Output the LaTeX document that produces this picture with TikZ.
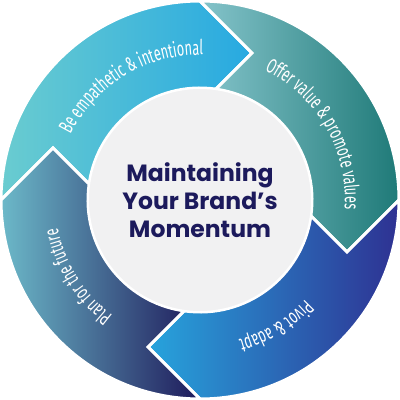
\documentclass[tikz,border=0pt]{standalone}
\usepackage{fontspec}
\usetikzlibrary{decorations.text}
\newfontfamily\arcfont[FakeStretch=0.62]{Fira Sans}
\newfontfamily\titlefont{Poppins}
\definecolor{empL}{HTML}{6ACCD0}
\definecolor{empR}{HTML}{27A9E1}
\definecolor{offL}{HTML}{85C4CB}
\definecolor{offR}{HTML}{1F7A78}
\definecolor{pivL}{HTML}{27A4DD}
\definecolor{pivR}{HTML}{2E3192}
\definecolor{plaL}{HTML}{6CB9C9}
\definecolor{plaR}{HTML}{1E1A5B}
\definecolor{hubgray}{HTML}{F1F1F2}
\definecolor{navy}{HTML}{1C1A5C}
\newcommand{\arclabel}{\color{white}\arcfont\fontsize{20.5}{22}\selectfont}
\tikzset{
  seg/.style={draw=white, line width=3pt, line join=miter},
  hubdisc/.style={fill=hubgray, draw=white, line width=2pt},
  title/.style={text=navy, align=center, font=\titlefont\bfseries\fontsize{23.5}{28}\selectfont},
  ring/.style={postaction={decorate}, decoration={text along path, text align=center, text={#1}}}
}

\begin{document}
\begin{tikzpicture}[x=1pt, y=1pt]
  \useasboundingbox (0,0) rectangle (400,400);
  \begin{scope}[shift={(200,200)}]
    % four arrow pieces, tip turned by \r
    \foreach \r/\cl/\cr in {0/empL/empR, -90/offL/offR, -180/pivL/pivR, 90/plaL/plaR}{
      \draw[seg, left color=\cl, right color=\cr]
        ({180+\r}:199) arc[start angle={180+\r}, end angle={90+\r}, radius=199]
        -- ({70.5+\r}:156) -- ({81.8+\r}:112)
        arc[start angle={81.8+\r}, end angle={171.8+\r}, radius=112]
        -- ({160.5+\r}:156) -- cycle;
    }

    \draw[hubdisc] (0,0) circle[radius=112];
    \node[title] (hub) at (0,0) {Maintaining\\Your Brand’s\\Momentum};

    \path[ring={|\arclabel|Be empathetic {\&} intentional}]
      (171:145) arc[start angle=171, end angle=71, radius=145];
    \path[ring={|\arclabel|Offer value {\&} promote values}]
      (80:145) arc[start angle=80, end angle=-20, radius=145];
    \path[ring={|\arclabel|Pivot {\&} adapt}]
      (-9:145) arc[start angle=-9, end angle=-109, radius=145];
    \path[ring={|\arclabel|Plan for the future}]
      (262:145) arc[start angle=262, end angle=162, radius=145];
  \end{scope}
\end{tikzpicture}
\end{document}
